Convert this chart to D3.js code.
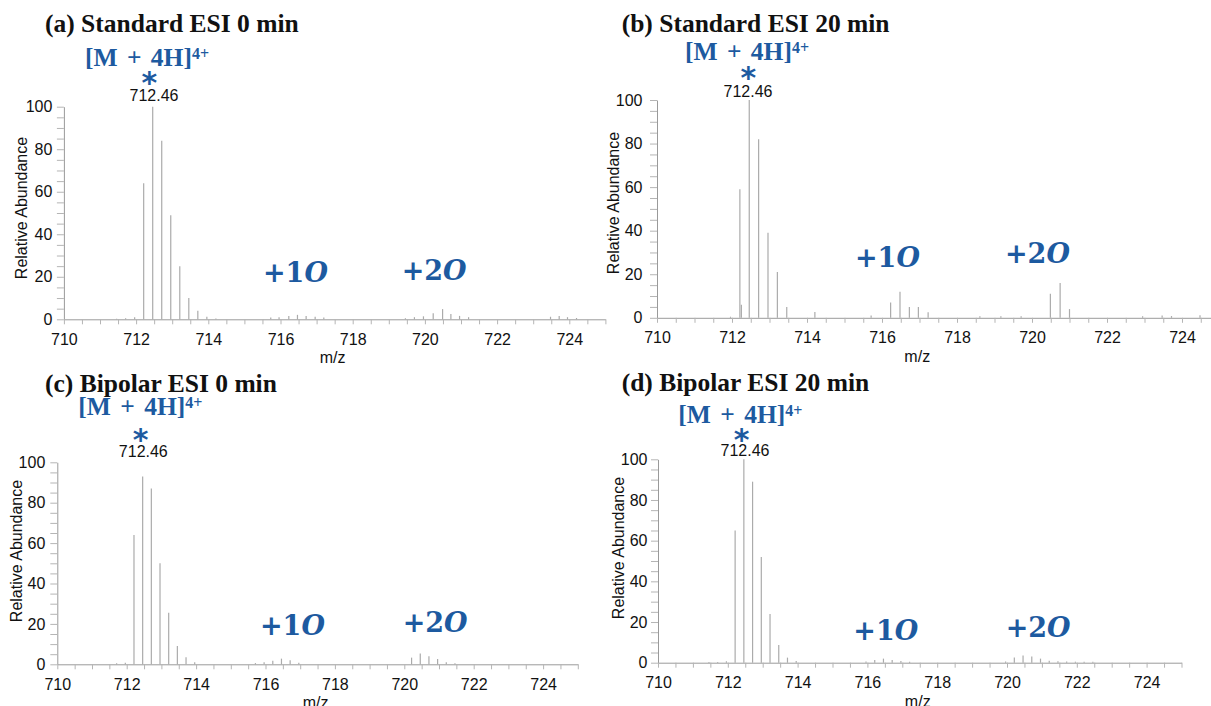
<!DOCTYPE html>
<html>
<head>
<meta charset="utf-8">
<script src="https://cdn.jsdelivr.net/npm/d3@7"></script>
<style>
  html, body { margin: 0; padding: 0; background: #fff; }
  svg { display: block; }
  .tick text { font-family: "Liberation Sans", Arial, sans-serif; font-size: 16px; fill: #111; }
</style>
</head>
<body>
<script>

var W = 1211, H = 706;

// peak lists (m/z, relative abundance %)
var mzA  = [711.46, 711.71, 711.96, 712.21, 712.46, 712.71, 712.96, 713.21, 713.46, 713.71, 713.96, 714.21,
            715.73, 715.96, 716.23, 716.47, 716.71, 716.96, 717.2,
            719.46, 719.71, 719.96, 720.23, 720.49, 720.72, 720.96, 721.21,
            723.48, 723.72, 723.95, 724.2];
var relA = [0.3, 0.5, 1.0, 64, 100, 84, 49, 25, 10, 4, 1.2, 0.4,
            0.8, 1.0, 1.6, 2.1, 1.6, 1.2, 0.8,
            0.5, 1.0, 1.4, 2.8, 4.8, 2.5, 1.6, 1.0,
            1.2, 1.6, 1.0, 0.6];

var mzB  = [711.96, 712.21, 712.25, 712.46, 712.71, 712.96, 713.21, 713.46, 714.21,
            715.71, 716.23, 716.48, 716.73, 716.97, 717.23,
            718.61, 719.17, 719.71, 720.49, 720.75, 721.0,
            722.95, 723.47, 723.72, 724.48];
var relB = [0.5, 59, 6, 100, 82, 39, 21, 5, 2.7,
            1.0, 7, 12, 5, 5, 2.5,
            0.7, 0.7, 0.7, 11, 16, 4,
            0.7, 1.0, 0.8, 1.2];

var mzC  = [711.71, 711.96, 712.21, 712.46, 712.71, 712.96, 713.21, 713.46, 713.71, 713.96,
            715.71, 715.96, 716.21, 716.46, 716.71, 716.96,
            720.21, 720.46, 720.71, 720.96, 721.21, 721.46];
var relC = [0.5, 0.8, 64, 93, 87, 50, 25.5, 9, 3.5, 1,
            0.6, 1.0, 1.8, 2.8, 2.0, 0.8,
            3.3, 5.3, 4.0, 2.6, 1.0, 0.5];

var mzD  = [711.46, 711.71, 711.96, 712.21, 712.46, 712.71, 712.96, 713.21, 713.46, 713.71, 713.96,
            715.96, 716.21, 716.46, 716.71, 716.96, 717.21,
            719.96, 720.21, 720.46, 720.71, 720.96, 721.21, 721.46, 721.71, 721.96, 722.21, 722.46];
var relD = [0.3, 0.4, 0.7, 65, 100, 89, 52, 24, 8.7, 2.5, 0.8,
            0.6, 1.3, 2.0, 1.3, 0.8, 0.5,
            0.6, 2.6, 3.6, 3.0, 2.0, 1.0, 0.7, 0.6, 0.5, 0.5, 0.5];

var titles = ["(a) Standard ESI 0 min", "(b) Standard ESI 20 min", "(c) Bipolar ESI 0 min", "(d) Bipolar ESI 20 min"];
var xTickVals = d3.range(710, 725.01, 0.5);
var yTickVals = d3.range(0, 100.01, 5);
var baseLabel = "712.46";

var BLUE = "#1d5aa0";
var PEAK = "#ababab";
var AXIS = "#9a9a9a";

// where each panel sits on the page
var panels = [
  {mz: mzA, rel: relA, x0: 63.9, x1: 605.4, yb: 319.3, yt: 106.7, pad: 4.5,
   title: [45, 32], ion: [85, 66], star: [149.3, 80], lbl: [154, 100.7],
   p1: [263, 281.7], p2: [401.7, 280], ylab: [21.7, 208]},
  {mz: mzB, rel: relB, x0: 657, x1: 1219.5, yb: 317.8, yt: 100, pad: 7.5,
   title: [621.7, 31.7], ion: [685, 60], star: [748.3, 75], lbl: [748, 96.7],
   p1: [855, 266.7], p2: [1005, 263.3], ylab: [613.3, 203]},
  {mz: mzC, rel: relC, x0: 57.3, x1: 577.8, yb: 664.3, yt: 462.3, pad: 5,
   title: [45, 391.7], ion: [78.3, 415], star: [140.7, 436.7], lbl: [143.3, 457.3],
   p1: [260, 635], p2: [402.7, 631.7], ylab: [16.7, 551]},
  {mz: mzD, rel: relD, x0: 658, x1: 1181.5, yb: 662.7, yt: 459.3, pad: 3.5,
   title: [621.7, 390.7], ion: [678.3, 423.3], star: [741.7, 436.7], lbl: [745, 456],
   p1: [853.3, 640], p2: [1005.7, 636.7], ylab: [618.3, 548]}
];

var svg = d3.select("body").append("svg")
  .attr("width", W).attr("height", H);

panels.forEach(function(p, i) {
  var x = d3.scaleLinear().domain([710, 725]).range([p.x0, p.x1]);
  var y = d3.scaleLinear().domain([0, 100]).range([p.yb, p.yt]);
  var g = svg.append("g");

  // peaks
  var pk = p.mz.map(function(m, j) { return {mz: m, v: p.rel[j]}; });
  g.selectAll("line.peak").data(pk).enter().append("line")
    .attr("class", "peak")
    .attr("x1", function(d) { return x(d.mz); })
    .attr("x2", function(d) { return x(d.mz); })
    .attr("y1", y(0))
    .attr("y2", function(d) { return y(d.v); })
    .attr("stroke", PEAK)
    .attr("stroke-width", 1.2);

  // y axis
  var ya = g.append("g").attr("transform", "translate(" + p.x0 + ",0)")
    .call(d3.axisLeft(y).tickValues(yTickVals)
      .tickFormat(function(d) { return d % 20 === 0 ? d : ""; })
      .tickSize(7).tickPadding(p.pad).tickSizeOuter(0));
  ya.select(".domain").attr("stroke", AXIS);
  ya.selectAll(".tick line").attr("stroke", "#b5b5b5");

  // x axis
  var xa = g.append("g").attr("transform", "translate(0," + p.yb + ")")
    .call(d3.axisBottom(x).tickValues(xTickVals)
      .tickFormat(function(d) { return d % 2 === 0 ? d : ""; })
      .tickSize(5).tickPadding(9).tickSizeOuter(0));
  xa.select(".domain").attr("stroke", AXIS);
  xa.selectAll(".tick line").attr("stroke", "#b5b5b5");

  // axis titles
  g.append("text")
    .attr("transform", "translate(" + p.ylab[0] + "," + p.ylab[1] + ") rotate(-90)")
    .attr("text-anchor", "middle").attr("dy", "0.35em")
    .attr("font-family", "Liberation Sans, Arial, sans-serif").attr("font-size", 16)
    .attr("fill", "#111")
    .text("Relative Abundance");

  g.append("text")
    .attr("x", (p.x0 + Math.min(p.x1, 1181.5)) / 2 - 2).attr("y", p.yb + 44)
    .attr("text-anchor", "middle")
    .attr("font-family", "Liberation Sans, Arial, sans-serif").attr("font-size", 16)
    .attr("fill", "#111")
    .text("m/z");

  // panel title
  g.append("text")
    .attr("x", p.title[0]).attr("y", p.title[1])
    .attr("font-family", "Liberation Serif, Times New Roman, serif")
    .attr("font-weight", "bold").attr("font-size", 25.5)
    .attr("fill", "#111")
    .text(titles[i]);

  // ion label
  var ion = g.append("text")
    .attr("x", p.ion[0]).attr("y", p.ion[1])
    .attr("font-family", "Liberation Serif, Times New Roman, serif")
    .attr("font-weight", "bold").attr("font-size", 25.5)
    .attr("word-spacing", 3)
    .attr("fill", BLUE);
  ion.append("tspan").text("[M + 4H]");
  ion.append("tspan").attr("dy", -7).attr("font-size", 16).text("4+");

  g.append("text")
    .attr("x", p.star[0]).attr("y", p.star[1] + 13)
    .attr("text-anchor", "middle")
    .attr("font-family", "DejaVu Sans, sans-serif").attr("font-weight", "bold")
    .attr("font-size", 30)
    .attr("fill", BLUE)
    .text("*");

  g.append("text")
    .attr("x", p.lbl[0]).attr("y", p.lbl[1])
    .attr("text-anchor", "middle")
    .attr("font-family", "Liberation Sans, Arial, sans-serif").attr("font-size", 16)
    .attr("fill", "#111")
    .text(baseLabel);

  // oxidation labels
  [["+1", p.p1], ["+2", p.p2]].forEach(function(o) {
    var t = g.append("text")
      .attr("x", o[1][0]).attr("y", o[1][1])
      .attr("font-family", "DejaVu Serif, serif")
      .attr("font-weight", "bold").attr("font-size", 27)
      .attr("fill", BLUE);
    t.append("tspan").text(o[0]);
    t.append("tspan").attr("font-style", "italic").text("O");
  });
});

</script>
</body>
</html>
